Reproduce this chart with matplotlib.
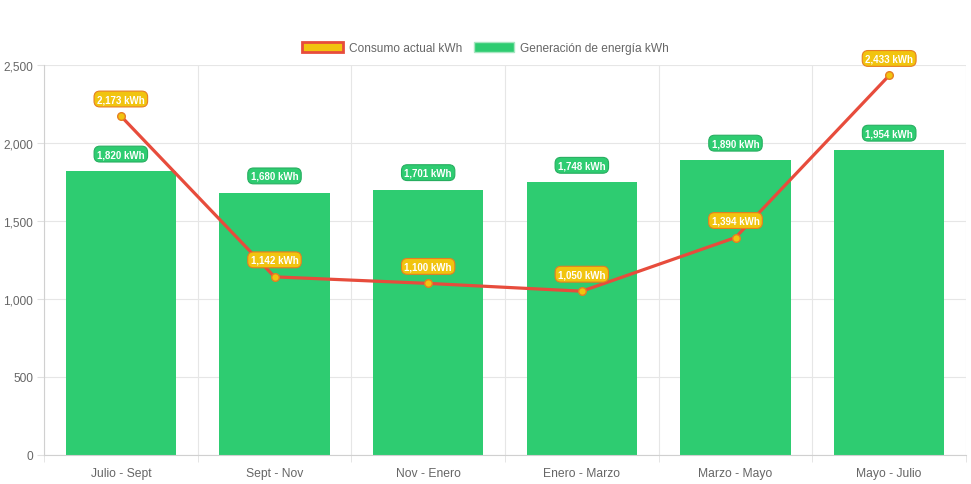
import matplotlib
matplotlib.use("Agg")
import matplotlib.pyplot as plt
from matplotlib.patches import Patch
import numpy as np

categories = ["Julio - Sept", "Sept - Nov", "Nov - Enero", "Enero - Marzo", "Marzo - Mayo", "Mayo - Julio"]
consumo = [2173, 1142, 1100, 1050, 1394, 2433]
generacion = [1820, 1680, 1701, 1748, 1890, 1954]
yticks = [0, 500, 1000, 1500, 2000, 2500]

plt.rcParams['font.family'] = ['Liberation Sans', 'DejaVu Sans']

fig = plt.figure(figsize=(9.71, 4.85), dpi=100)
ax = fig.add_axes([44/971, 29/485, 922/971, 390/485])

x = np.arange(len(categories))
ax.bar(x, generacion, width=0.72, color="#2ecc71", zorder=2)
ax.plot(x, consumo, color="#e74c3c", lw=2.3, zorder=3, marker="o", markersize=5.5,
        markerfacecolor="#f1c40f", markeredgecolor="#e67e22", markeredgewidth=1)

for xi, v in zip(x, generacion):
    ax.annotate(f"{v:,} kWh", (xi, v), xytext=(0, 17), textcoords="offset pixels",
                ha="center", va="center", fontsize=7, fontweight="bold", color="white", zorder=5,
                bbox=dict(boxstyle="round,pad=0.3,rounding_size=0.6", fc="#2ecc71", ec="#27ae60", lw=0.8))
for xi, v in zip(x, consumo):
    ax.annotate(f"{v:,} kWh", (xi, v), xytext=(0, 17), textcoords="offset pixels",
                ha="center", va="center", fontsize=7, fontweight="bold", color="white", zorder=6,
                bbox=dict(boxstyle="round,pad=0.3,rounding_size=0.6", fc="#f1c40f", ec="#e67e22", lw=0.8))

ax.set_xlim(-0.5, len(categories) - 0.5)
ax.set_ylim(0, 2500)
ax.set_yticks(yticks)
ax.set_yticklabels([f"{t:,}" for t in yticks])
ax.set_xticks(x)
ax.set_xticklabels(categories)
ax.set_xticks(np.arange(len(categories) + 1) - 0.5, minor=True)
ax.tick_params(axis="x", which="major", length=0, pad=9, labelsize=8.7, labelcolor="#666666")
ax.tick_params(axis="x", which="minor", length=5, color="#e0e0e0")
ax.tick_params(axis="y", length=5, color="#e0e0e0", pad=3, labelsize=8.6, labelcolor="#666666")
ax.grid(axis="y", color="#e6e6e6", lw=0.8, zorder=0)
ax.grid(axis="x", which="minor", color="#e6e6e6", lw=0.8, zorder=0)
for s in ["top", "right"]:
    ax.spines[s].set_visible(False)
ax.spines["left"].set_color("#d0d0d0")
ax.spines["bottom"].set_color("#d0d0d0")
ax.set_axisbelow(True)

handles = [Patch(facecolor="#f1c40f", edgecolor="#e74c3c", linewidth=2, label="Consumo actual kWh"),
           Patch(facecolor="#2ecc71", edgecolor="#a8e6c1", linewidth=1, label="Generación de energía kWh")]
fig.legend(handles=handles, loc="center", bbox_to_anchor=(0.5, 1 - 49/485), ncol=2, frameon=False,
           fontsize=8.6, labelcolor="#666666", handlelength=3.4, handleheight=1.0, handletextpad=0.5,
           columnspacing=1.0)

fig.savefig("out.png", dpi=100)
